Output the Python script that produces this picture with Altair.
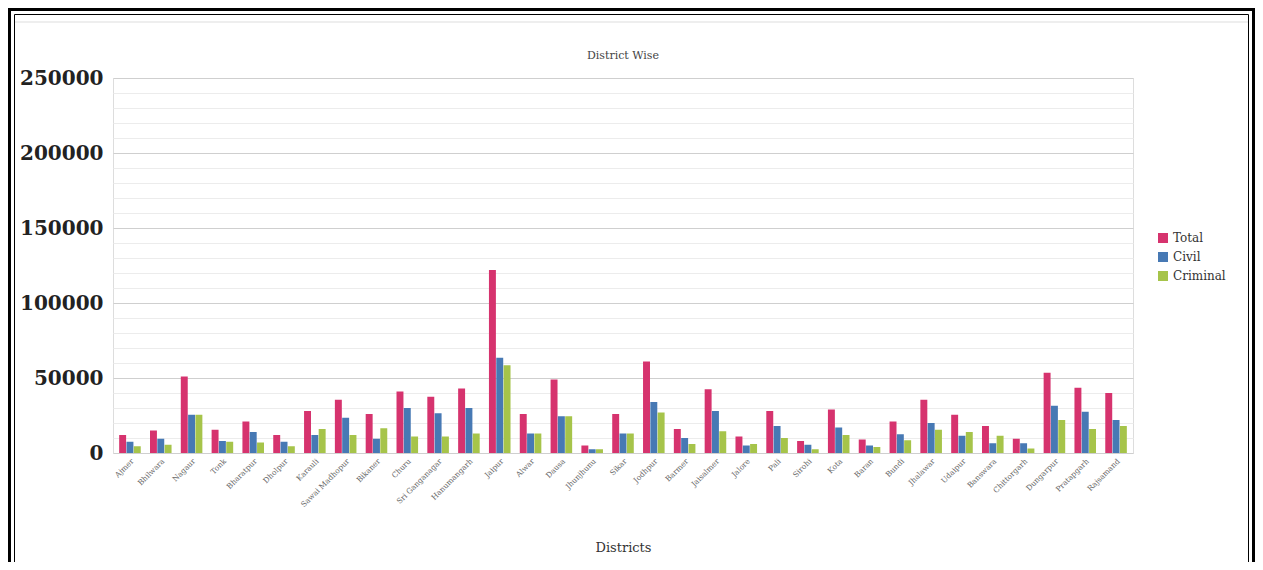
import altair as alt
import pandas as pd

districts = ["Ajmer", "Bhilwara", "Nagaur", "Tonk", "Bharatpur", "Dholpur", "Karauli",
             "Sawai Madhopur", "Bikaner", "Churu", "Sri Ganganagar", "Hanumangarh", "Jaipur",
             "Alwar", "Dausa", "Jhunjhunu", "Sikar", "Jodhpur", "Barmer", "Jaisalmer", "Jalore",
             "Pali", "Sirohi", "Kota", "Baran", "Bundi", "Jhalawar", "Udaipur", "Banswara",
             "Chittorgarh", "Dungarpur", "Pratapgarh", "Rajsamand"]
total = [12000, 15000, 51000, 15500, 21000, 12000, 28000, 35500, 26000, 41000, 37500, 43000,
         122000, 26000, 49000, 5000, 26000, 61000, 16000, 42500, 11000, 28000, 8000, 29000,
         9000, 21000, 35500, 25500, 18000, 9500, 53500, 43500, 40000]
civil = [7500, 9500, 25500, 8000, 14000, 7500, 12000, 23500, 9500, 30000, 26500, 30000,
         63500, 13000, 24500, 2500, 13000, 34000, 10000, 28000, 5000, 18000, 5500, 17000,
         5000, 12500, 20000, 11500, 6500, 6500, 31500, 27500, 22000]
criminal = [4500, 5500, 25500, 7500, 7000, 4500, 16000, 12000, 16500, 11000, 11000, 13000,
            58500, 13000, 24500, 2500, 13000, 27000, 6000, 14500, 6000, 10000, 2500, 12000,
            4000, 8500, 15500, 14000, 11500, 3000, 22000, 16000, 18000]
series = ["Total", "Civil", "Criminal"]
colors = ["#d6336e", "#4779b4", "#a6c44a"]
y_ticks = list(range(0, 250001, 10000))
chart_title = "District Wise"

rows = []
for i, d in enumerate(districts):
    for s, vals in zip(series, [total, civil, criminal]):
        rows.append({"District": d, "Type": s, "Cases": vals[i]})
df = pd.DataFrame(rows)

serif = "DejaVu Serif"

bars = alt.Chart(df).mark_bar().encode(
    x=alt.X("District:N", sort=districts,
            scale=alt.Scale(paddingInner=0.3, paddingOuter=0.2),
            axis=alt.Axis(title="Districts", labelAngle=-45, labelAlign="right",
                          labelBaseline="top", labelFontSize=7.5, labelColor="#666",
                          labelFont=serif, ticks=False, domain=False, labelPadding=4,
                          titleFont=serif, titleFontSize=13, titleFontWeight="normal",
                          titleColor="#333", titleY=94, titleBaseline="middle",
                          grid=False)),
    xOffset=alt.XOffset("Type:N", sort=series, scale=alt.Scale(paddingInner=0.05)),
    y=alt.Y("Cases:Q", scale=alt.Scale(domain=[0, 250000], nice=False),
            axis=alt.Axis(title=None, values=y_ticks,
                          labelExpr="datum.value % 50000 === 0 ? datum.value : ''",
                          labelOverlap=False, labelFont=serif, labelFontSize=20,
                          labelFontWeight="bold", labelColor="#222", labelPadding=10,
                          ticks=False, domain=False,
                          gridColor={"condition": {"test": "datum.value % 50000 === 0",
                                                   "value": "#cfcfcf"},
                                     "value": "#ececec"})),
    color=alt.Color("Type:N", sort=series,
                    scale=alt.Scale(domain=series, range=colors),
                    legend=alt.Legend(title=None, orient="none", legendX=1044, legendY=154,
                                      symbolType="square", symbolSize=100,
                                      symbolStrokeWidth=0, labelFont=serif,
                                      labelFontSize=12, labelColor="#333",
                                      rowPadding=7, padding=0))
)

frame_data = alt.Data(values=[{"k": 1}])
outer = alt.Chart(frame_data).mark_rect(filled=False, stroke="black", strokeWidth=3).encode(
    x=alt.value(-103.5), x2=alt.value(1140.5), y=alt.value(-68.5), y2=alt.value(560))
inner = alt.Chart(frame_data).mark_rect(filled=False, stroke="black", strokeWidth=1).encode(
    x=alt.value(-98.5), x2=alt.value(1135.5), y=alt.value(-63.5), y2=alt.value(560))
line = alt.Chart(frame_data).mark_rule(color="#dddddd", strokeWidth=1).encode(
    x=alt.value(-98), x2=alt.value(1135), y=alt.value(-56))
title = alt.Chart(frame_data).mark_text(
    text=chart_title, font=serif, fontSize=11, color="#444", align="center",
    baseline="middle").encode(x=alt.value(510), y=alt.value(-22))

chart = alt.layer(outer, inner, line, title, bars).properties(
    width=1020, height=375,
    autosize=alt.AutoSizeParams(type="none"),
    padding={"left": 105, "top": 70, "right": 122, "bottom": 109},
).configure_view(stroke="#dddddd", strokeWidth=1)

chart.save("out.html", embed_options={"renderer": "svg", "actions": False})
